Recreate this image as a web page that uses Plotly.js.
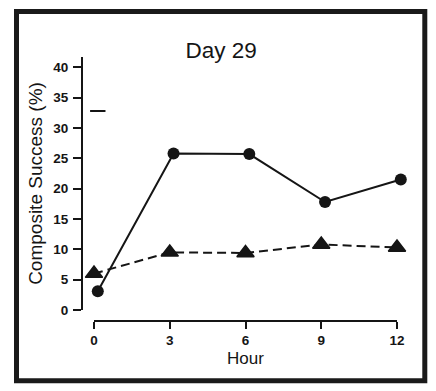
<!DOCTYPE html>
<html>
<head>
<meta charset="utf-8">
<script src="https://cdn.plot.ly/plotly-3.0.1.min.js"></script>
<style>
  html, body { margin: 0; padding: 0; background: #fff; }
  #chart { width: 436px; height: 391px; }
</style>
</head>
<body>
<div id="chart"></div>
<script>
// Data
const hours = [0, 3, 6, 9, 12];
const circleValues = [3.1, 25.8, 25.7, 17.8, 21.5];   // solid line, circles
const triangleValues = [6.0, 9.5, 9.4, 10.8, 10.3];   // dashed line, triangles
const circleDodge = 0.15;                              // small horizontal offset of circle series
const strayMarkValue = [32.8];                         // short dash near the top left
const yTickVals = [0, 5, 10, 15, 20, 25, 30, 35, 40];
const xTickVals = [0, 3, 6, 9, 12];

const ink = '#151515';
const fontFam = '"Liberation Sans", Arial, Helvetica, sans-serif';

const circleX = hours.map(h => h + circleDodge);
const bold = v => '<b>' + v + '</b>';

// plot geometry (pixels)
const PW = 325;            // paper width
const x0px = 12;           // x = 0 offset inside paper
const xEndVisible = 315;   // x = 12 position inside paper

const traces = [
  {
    x: hours, y: triangleValues, xaxis: 'x2', yaxis: 'y', type: 'scatter', mode: 'lines+markers',
    line: { color: ink, width: 2, dash: '9px,5px' },
    marker: { symbol: 'triangle-up', size: 15, color: ink, line: { color: ink, width: 1.5 } },
    cliponaxis: false, hoverinfo: 'skip'
  },
  {
    x: circleX, y: circleValues, xaxis: 'x2', yaxis: 'y', type: 'scatter', mode: 'lines+markers',
    line: { color: ink, width: 2 },
    marker: { symbol: 'circle', size: 12, color: ink },
    cliponaxis: false, hoverinfo: 'skip'
  },
  {
    x: [circleDodge], y: strayMarkValue, xaxis: 'x2', yaxis: 'y', type: 'scatter', mode: 'markers',
    marker: { symbol: 'line-ew', size: 11, color: ink, line: { color: ink, width: 2 } },
    cliponaxis: false, hoverinfo: 'skip'
  },
  { // carrier for the visible hour axis
    x: [], y: [], xaxis: 'x', yaxis: 'y', type: 'scatter', mode: 'markers', hoverinfo: 'skip'
  }
];

const layout = {
  width: 436, height: 391,
  margin: { l: 82, r: 436 - 82 - PW, t: 57, b: 70 },
  paper_bgcolor: '#fff', plot_bgcolor: 'rgba(0,0,0,0)',
  showlegend: false,
  font: { family: fontFam, color: ink },
  title: {
    text: 'Day 29',
    font: { family: fontFam, size: 22.5, color: ink },
    xref: 'container', x: 0.507, xanchor: 'center',
    yref: 'container', y: 1 - 58 / 391, yanchor: 'bottom'
  },
  // visible hour axis
  xaxis: {
    domain: [x0px / PW, xEndVisible / PW], range: [0, 12],
    anchor: 'free', position: 0,
    showgrid: false, zeroline: false,
    showline: true, linecolor: ink, linewidth: 2,
    ticks: 'outside', ticklen: 7, tickwidth: 2, tickcolor: ink,
    tickvals: xTickVals, ticktext: xTickVals.map(bold),
    tickfont: { family: fontFam, size: 13.5, color: ink },
    title: { text: 'Hour', font: { family: fontFam, size: 17, color: ink }, standoff: 4 },
    automargin: false, fixedrange: true
  },
  // data axis (hidden), same scale as the visible one but extends a bit further right
  xaxis2: {
    domain: [x0px / PW, 1], range: [0, 12 * (PW - x0px) / (xEndVisible - x0px)],
    anchor: 'y', visible: false, fixedrange: true
  },
  yaxis: {
    domain: [11 / 264, 1], range: [0, 41.7],
    anchor: 'free', position: 0,
    showgrid: false, zeroline: false,
    showline: true, linecolor: ink, linewidth: 2,
    ticks: 'outside', ticklen: 8, tickwidth: 2, tickcolor: ink,
    tickvals: yTickVals, ticktext: yTickVals.map(bold),
    tickfont: { family: fontFam, size: 13.5, color: ink },
    ticklabelstandoff: 2,
    title: { text: 'Composite Success (%)', font: { family: fontFam, size: 19, color: ink }, standoff: 5 },
    automargin: false, fixedrange: true
  },
  shapes: [
    {
      type: 'rect', xref: 'paper', yref: 'paper',
      x0: (16.5 - 82) / PW, x1: (424.8 - 82) / PW, y0: (321 - 380.8) / 264, y1: (321 - 11.5) / 264,
      line: { color: '#1a1a1a', width: 5 }, fillcolor: 'rgba(0,0,0,0)', layer: 'above'
    }
  ]
};

Plotly.newPlot('chart', traces, layout, { staticPlot: true, displayModeBar: false });
</script>
</body>
</html>
